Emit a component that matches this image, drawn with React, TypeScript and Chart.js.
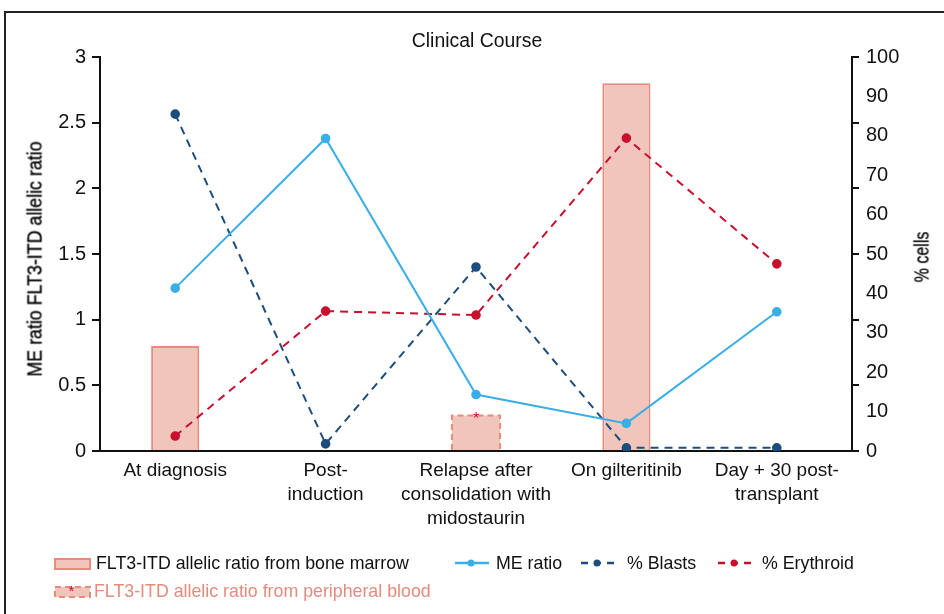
import React, { useEffect, useRef } from "react";
import { Chart, registerables } from "chart.js";
Chart.register(...registerables);

const categories = [
  ["At diagnosis"],
  ["Post-", "induction"],
  ["Relapse after", "consolidation with", "midostaurin"],
  ["On gilteritinib"],
  ["Day + 30 post-", "transplant"],
];
const meRatio = [1.24, 2.38, 0.43, 0.21, 1.06];
const blasts = [85.5, 1.8, 46.7, 0.8, 0.8];
const erythroid = [3.8, 35.5, 34.5, 79.4, 47.5];
const boneMarrowAR = [0.8, null, null, 2.8, null];
const peripheralAR = [null, null, 0.27, null, null];

const TITLE = "Clinical Course";
const LEFT_TITLE = "ME ratio FLT3-ITD allelic ratio";
const RIGHT_TITLE = "% cells";

const C_ME = "#3aaee6";
const C_BLAST = "#1c4d7c";
const C_ERY = "#c8102e";
const C_BAR = "#f1c5bc";
const C_BAR_BORDER = "#e68c7c";
const C_AXIS = "#111111";

const TICK_FONT = "'Liberation Sans', Arial, Helvetica, sans-serif";

const extrasPlugin = {
  id: "extras",
  afterDatasetsDraw(chart: any) {
    const ctx = chart.ctx;
    const meta = chart.getDatasetMeta(1);
    meta.data.forEach((el: any, i: number) => {
      if (peripheralAR[i] == null) return;
      const p = el.getProps(["x", "y", "base", "width"], true);
      const l = p.x - p.width / 2;
      ctx.save();
      ctx.strokeStyle = C_BAR_BORDER;
      ctx.lineWidth = 2;
      ctx.setLineDash([6, 4]);
      ctx.beginPath();
      ctx.moveTo(l, p.base);
      ctx.lineTo(l, p.y);
      ctx.lineTo(l + p.width, p.y);
      ctx.lineTo(l + p.width, p.base);
      ctx.stroke();
      ctx.setLineDash([]);
      ctx.fillStyle = C_ERY;
      ctx.font = "16px " + TICK_FONT;
      ctx.textAlign = "center";
      ctx.textBaseline = "middle";
      ctx.fillText("*", p.x, p.y + 4);
      ctx.restore();
    });
  },
  afterDraw(chart: any) {
    const ctx = chart.ctx;
    const y = chart.scales.y;
    const right = chart.chartArea.right;
    ctx.save();
    ctx.strokeStyle = C_AXIS;
    ctx.lineWidth = 2;
    y.ticks.forEach((t: any) => {
      const py = Math.round(y.getPixelForValue(t.value));
      ctx.beginPath();
      ctx.moveTo(right, py);
      ctx.lineTo(right + 7, py);
      ctx.stroke();
    });
    ctx.restore();
  },
};

function LegendBox({ dashed }: { dashed?: boolean }) {
  return (
    <svg width="38" height="16" style={{ display: "block" }}>
      <rect x="1" y="4" width="35" height="10" fill={C_BAR} stroke={C_BAR_BORDER} strokeWidth="2" strokeDasharray={dashed ? "6 4" : undefined} />
      {dashed ? (
        <text x="17.5" y="13" fill={C_ERY} fontSize="15" textAnchor="middle" fontFamily={TICK_FONT}>*</text>
      ) : null}
    </svg>
  );
}

function LegendLine({ color, dashed }: { color: string; dashed?: boolean }) {
  return (
    <svg width="34" height="12" style={{ display: "block" }}>
      <line x1="0" y1="6" x2="34" y2="6" stroke={color} strokeWidth="2.5" strokeDasharray={dashed ? "7 6" : undefined} />
      <circle cx="16" cy="6" r="3.5" fill={color} />
    </svg>
  );
}

export default function App() {
  const ref = useRef<HTMLCanvasElement>(null);
  useEffect(() => {
    if (!ref.current) return;
    const chart = new Chart(ref.current, {
      type: "bar",
      data: {
        labels: categories as any,
        datasets: [
          {
            type: "bar",
            label: "FLT3-ITD allelic ratio from bone marrow",
            data: boneMarrowAR as any,
            backgroundColor: C_BAR,
            borderColor: C_BAR_BORDER,
            borderWidth: 2,
            yAxisID: "y",
            order: 3,
            grouped: false,
            barPercentage: 0.32,
            categoryPercentage: 1,
          } as any,
          {
            type: "bar",
            label: "FLT3-ITD allelic ratio from peripheral blood",
            data: peripheralAR as any,
            backgroundColor: C_BAR,
            borderWidth: 0,
            yAxisID: "y",
            order: 3,
            grouped: false,
            barPercentage: 0.32,
            categoryPercentage: 1,
          } as any,
          {
            type: "line",
            label: "ME ratio",
            data: meRatio,
            borderColor: C_ME,
            backgroundColor: C_ME,
            borderWidth: 2,
            pointRadius: 3.8,
            pointHoverRadius: 3.8,
            yAxisID: "y",
            order: 1,
          } as any,
          {
            type: "line",
            label: "% Blasts",
            data: blasts,
            borderColor: C_BLAST,
            backgroundColor: C_BLAST,
            borderWidth: 2,
            borderDash: [8, 6],
            pointRadius: 3.8,
            pointHoverRadius: 3.8,
            yAxisID: "y1",
            order: 1,
          } as any,
          {
            type: "line",
            label: "% Erythroid",
            data: erythroid,
            borderColor: C_ERY,
            backgroundColor: C_ERY,
            borderWidth: 2,
            borderDash: [8, 6],
            pointRadius: 3.8,
            pointHoverRadius: 3.8,
            yAxisID: "y1",
            order: 1,
          } as any,
        ],
      },
      options: {
        animation: false,
        responsive: false,
        maintainAspectRatio: false,
        layout: { padding: { top: 57, left: 0, right: 0, bottom: 0 } },
        plugins: {
          legend: { display: false },
          title: { display: false },
          tooltip: { enabled: false },
        },
        scales: {
          x: {
            grid: { display: false, drawTicks: false },
            border: { display: true, color: C_AXIS, width: 2 },
            ticks: {
              color: "#111",
              font: { family: TICK_FONT, size: 19, lineHeight: 24 / 19 },
              padding: 8,
              maxRotation: 0,
              autoSkip: false,
            },
            afterFit(scale: any) {
              scale.height = 163;
            },
          },
          y: {
            position: "left",
            min: 0,
            max: 3,
            grid: { display: true, drawOnChartArea: false, drawTicks: true, tickLength: 8, color: C_AXIS, lineWidth: 2 },
            border: { display: true, color: C_AXIS, width: 2 },
            ticks: {
              stepSize: 0.5,
              color: "#111",
              font: { family: TICK_FONT, size: 20 },
              padding: 6,
              callback: (v: any) => String(v),
            },
            afterFit(scale: any) {
              scale.width = 100;
            },
          },
          y1: {
            position: "right",
            min: 0,
            max: 100,
            grid: { display: false, drawTicks: false },
            border: { display: true, color: C_AXIS, width: 2 },
            ticks: {
              stepSize: 10,
              color: "#111",
              font: { family: TICK_FONT, size: 20 },
              padding: 14,
              callback: (v: any) => String(v),
            },
            afterFit(scale: any) {
              scale.width = 92;
            },
          },
        },
      },
      plugins: [extrasPlugin],
    });
    return () => chart.destroy();
  }, []);

  const legendText: React.CSSProperties = {
    fontFamily: TICK_FONT,
    fontSize: 17.8,
    color: "#111",
    whiteSpace: "nowrap",
    lineHeight: "20px",
  };

  const rotated: React.CSSProperties = {
    position: "absolute",
    whiteSpace: "nowrap",
    fontFamily: TICK_FONT,
    fontSize: 20,
    color: "#000",
    WebkitTextStroke: "0.3px #000",
  };

  return (
    <div style={{ position: "fixed", left: 0, top: 0, width: 944, height: 614, overflow: "hidden", background: "#fff" }}>
      <div style={{ position: "absolute", left: 4, top: 11, width: 1100, height: 800, border: "2px solid #222", boxSizing: "border-box" }} />
      <canvas ref={ref} width={944} height={614} style={{ position: "absolute", left: 0, top: 0, width: 944, height: 614 }} />
      <div style={{ position: "absolute", left: 477, top: 40, width: 0, height: 0 }}>
        <div style={{ position: "absolute", transform: "translate(-50%,-50%) scaleX(0.97)", whiteSpace: "nowrap", fontFamily: TICK_FONT, fontSize: 20, color: "#111" }}>{TITLE}</div>
      </div>
      <div style={{ position: "absolute", left: 35, top: 259, width: 0, height: 0 }}>
        <div style={{ ...rotated, transform: "translate(-50%,-50%) rotate(-90deg) scaleX(0.89)" }}>{LEFT_TITLE}</div>
      </div>
      <div style={{ position: "absolute", left: 922, top: 257, width: 0, height: 0 }}>
        <div style={{ ...rotated, transform: "translate(-50%,-50%) rotate(-90deg) scaleX(0.8)" }}>{RIGHT_TITLE}</div>
      </div>
      <div style={{ position: "absolute", left: 54, top: 553, display: "flex", alignItems: "center" }}>
        <LegendBox />
        <span style={{ ...legendText, marginLeft: 4 }}>FLT3-ITD allelic ratio from bone marrow</span>
      </div>
      <div style={{ position: "absolute", left: 455, top: 553, display: "flex", alignItems: "center" }}>
        <LegendLine color={C_ME} />
        <span style={{ ...legendText, marginLeft: 7 }}>ME ratio</span>
      </div>
      <div style={{ position: "absolute", left: 581, top: 553, display: "flex", alignItems: "center" }}>
        <LegendLine color={C_BLAST} dashed />
        <span style={{ ...legendText, marginLeft: 12 }}>% Blasts</span>
      </div>
      <div style={{ position: "absolute", left: 718, top: 553, display: "flex", alignItems: "center" }}>
        <LegendLine color={C_ERY} dashed />
        <span style={{ ...legendText, marginLeft: 10 }}>% Erythroid</span>
      </div>
      <div style={{ position: "absolute", left: 54, top: 581, display: "flex", alignItems: "center" }}>
        <LegendBox dashed />
        <span style={{ ...legendText, marginLeft: 2, color: "#e48b7c" }}>FLT3-ITD allelic ratio from peripheral blood</span>
      </div>
    </div>
  );
}
